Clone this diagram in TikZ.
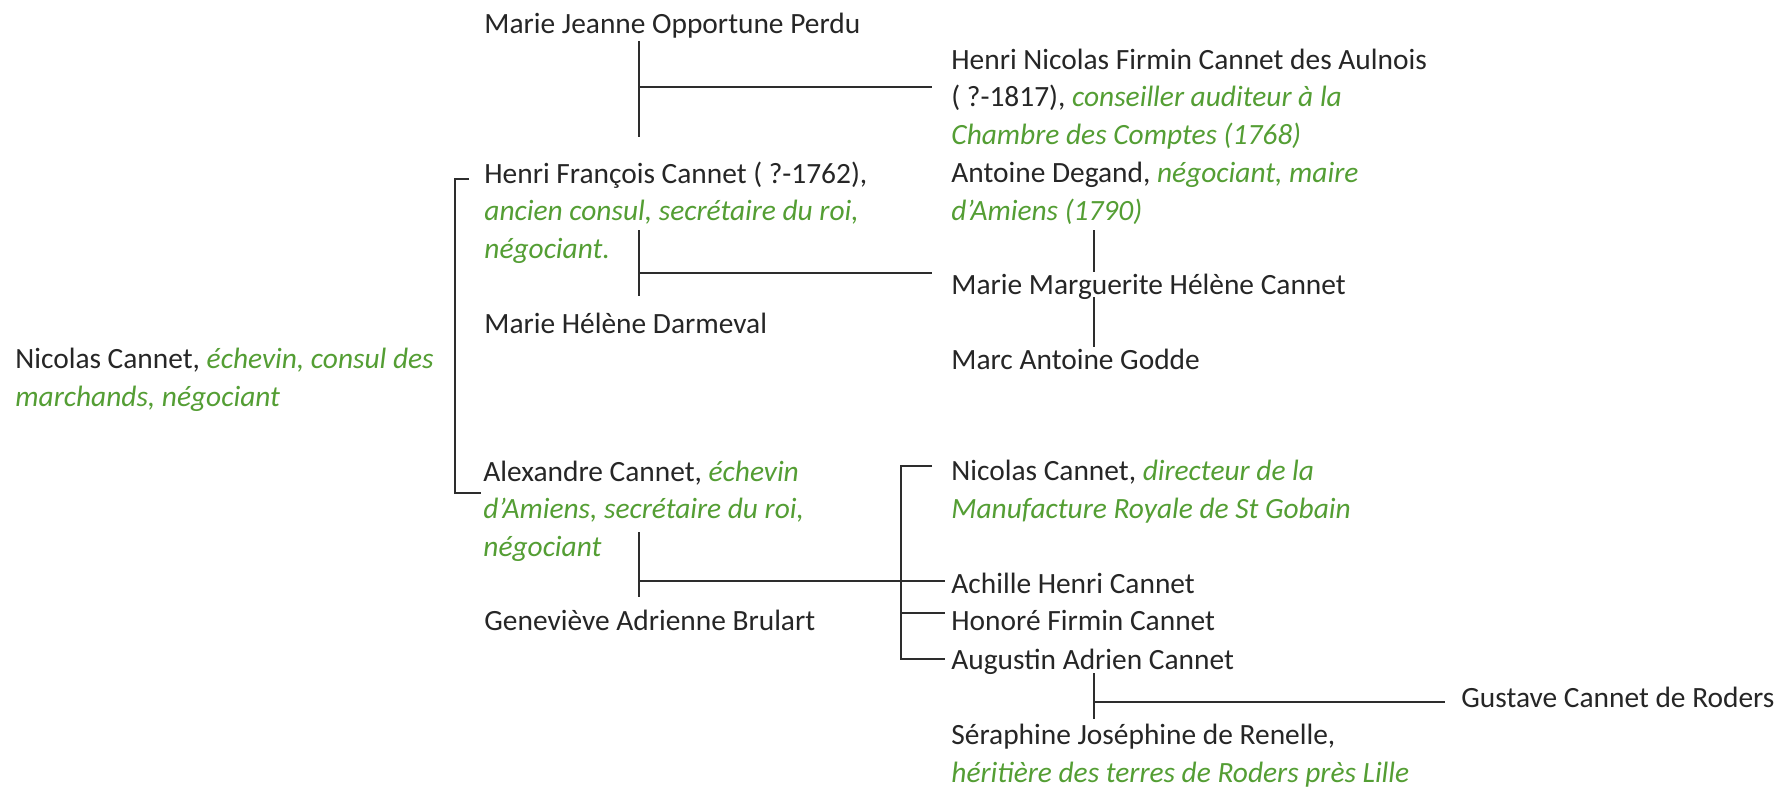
\documentclass[tikz,border=0pt]{standalone}
\usepackage{fontspec}
\setmainfont{Carlito}
\definecolor{txt}{RGB}{38,38,38}
\definecolor{grn}{RGB}{84,158,52}
\definecolor{ln}{RGB}{45,45,45}
\newcommand{\gr}[1]{\textcolor{grn}{\itshape #1}}
\begin{document}
\begin{tikzpicture}[x=0.5pt,y=-0.5pt,
  person/.style={anchor=base west, inner sep=0pt, align=left, text=txt,
                 font=\fontsize{14.7}{18.75}\selectfont},
  link/.style={draw=ln, line width=0.9pt}]
\useasboundingbox[fill=white] (0,0) rectangle (1782,787);

% people (anchor = baseline of the last line)
\node[person] (perdu) at (484,33) {Marie Jeanne Opportune Perdu};
\node[person] (aulnois) at (951,144) {Henri Nicolas Firmin Cannet des Aulnois\\( ?-1817), \gr{conseiller auditeur à la}\\\gr{Chambre des Comptes (1768)}};
\node[person] (hf) at (484,258) {Henri François Cannet ( ?-1762),\\\gr{ancien consul, secrétaire du roi,}\\\gr{négociant.}};
\node[person] (degand) at (951,220) {Antoine Degand, \gr{négociant, maire}\\\gr{d’Amiens (1790)}};
\node[person] (marguerite) at (951,294) {Marie Marguerite Hélène Cannet};
\node[person] (darmeval) at (484,333) {Marie Hélène Darmeval};
\node[person] (godde) at (951,369) {Marc Antoine Godde};
\node[person] (nicolas) at (15,406) {Nicolas Cannet, \gr{échevin, consul des}\\\gr{marchands, négociant}};
\node[person] (alexandre) at (483,556) {Alexandre Cannet, \gr{échevin}\\\gr{d’Amiens, secrétaire du roi,}\\\gr{négociant}};
\node[person] (nicolasb) at (951,518) {Nicolas Cannet, \gr{directeur de la}\\\gr{Manufacture Royale de St Gobain}};
\node[person] (achille) at (951,593) {Achille Henri Cannet};
\node[person] (honore) at (951,630) {Honoré Firmin Cannet};
\node[person] (genevieve) at (484,630) {Geneviève Adrienne Brulart};
\node[person] (augustin) at (951,669) {Augustin Adrien Cannet};
\node[person] (gustave) at (1461,707) {Gustave Cannet de Roders};
\node[person] (seraphine) at (951,782) {Séraphine Joséphine de Renelle,\\\gr{héritière des terres de Roders près Lille}};

% marriage Perdu - Henri François
\coordinate (m1top) at (639,41);
\coordinate (m1bot) at (639,137);
\coordinate (m1j) at (639,87);
\coordinate (m1end) at (932,87);
\draw[link] (m1top) -- (m1bot);
\draw[link] (m1j) -- (m1end);

% marriage Henri François - Darmeval
\coordinate (m2top) at (639,230);
\coordinate (m2bot) at (639,296);
\coordinate (m2j) at (639,273);
\coordinate (m2end) at (932,273);
\draw[link] (m2top) -- (m2bot);
\draw[link] (m2j) -- (m2end);

% Degand - Marguerite - Godde
\coordinate (m3a) at (1094,230);
\coordinate (m3b) at (1094,272);
\coordinate (m3c) at (1094,297);
\coordinate (m3d) at (1094,347);
\draw[link] (m3a) -- (m3b);
\draw[link] (m3c) -- (m3d);

% children of Nicolas Cannet
\coordinate (b1a) at (469,179);
\coordinate (b1b) at (455,179);
\coordinate (b1c) at (455,493);
\coordinate (b1d) at (481,493);
\draw[link] (b1a) -- (b1b) -- (b1c) -- (b1d);

% marriage Alexandre - Geneviève
\coordinate (m4top) at (639,532);
\coordinate (m4bot) at (639,597);
\coordinate (m4j) at (639,581);
\coordinate (m4end) at (945,581);
\draw[link] (m4top) -- (m4bot);
\draw[link] (m4j) -- (m4end);

% children of Alexandre
\coordinate (b2a) at (932,466);
\coordinate (b2b) at (901,466);
\coordinate (b2c) at (901,659);
\coordinate (b2d) at (945,659);
\coordinate (b2e) at (901,613);
\coordinate (b2f) at (945,613);
\draw[link] (b2a) -- (b2b) -- (b2c) -- (b2d);
\draw[link] (b2e) -- (b2f);

% marriage Augustin - Séraphine
\coordinate (m5top) at (1094,673);
\coordinate (m5bot) at (1094,719);
\coordinate (m5j) at (1094,702);
\coordinate (m5end) at (1445,702);
\draw[link] (m5top) -- (m5bot);
\draw[link] (m5j) -- (m5end);
\end{tikzpicture}
\end{document}
